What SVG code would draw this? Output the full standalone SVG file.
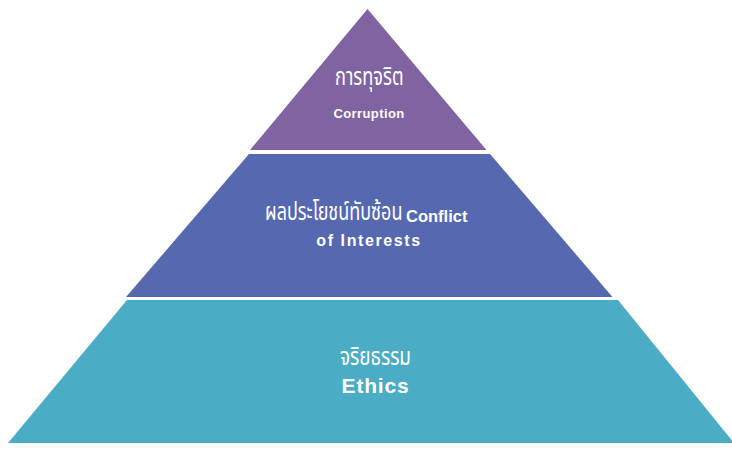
<svg xmlns="http://www.w3.org/2000/svg" width="732" height="450" viewBox="0 0 732 450">
<style>
text{fill:#fff}
.th{font-family:"Noto Sans Thai","Noto Sans","DejaVu Sans",sans-serif;font-size:24px}
.en{font-family:"Liberation Sans",Arial,sans-serif;font-weight:bold}
</style>
<rect width="732" height="450" fill="#fff"/>
<g id="corruption">
<polygon points="367.5,9 486.5,150 250,150" fill="#8064A2"/>
<text class="th" transform="translate(335,85) scale(0.76,1)">การทุจริต</text>
<text class="en" x="369" y="118" font-size="13" text-anchor="middle" letter-spacing="0.4">Corruption</text>
</g>
<g id="conflict">
<polygon points="249,154 490,154 612.5,297 126,297" fill="#5568B0"/>
<text class="th" transform="translate(265,220) scale(0.75,1)">ผลประโยชน์ทับซ้อน</text>
<text class="en" x="406" y="222" font-size="16.5">Conflict</text>
<text class="en" x="369" y="246" font-size="16" text-anchor="middle" letter-spacing="1.6">of Interests</text>
</g>
<g id="ethics">
<polygon points="127,300 618,300 734,443 8,443" fill="#4BACC6"/>
<text class="th" transform="translate(340,365) scale(0.79,1)">จริยธรรม</text>
<text class="en" x="375.5" y="393" font-size="21" text-anchor="middle" letter-spacing="0.8">Ethics</text>
</g>
<g id="connectors"/>
</svg>
